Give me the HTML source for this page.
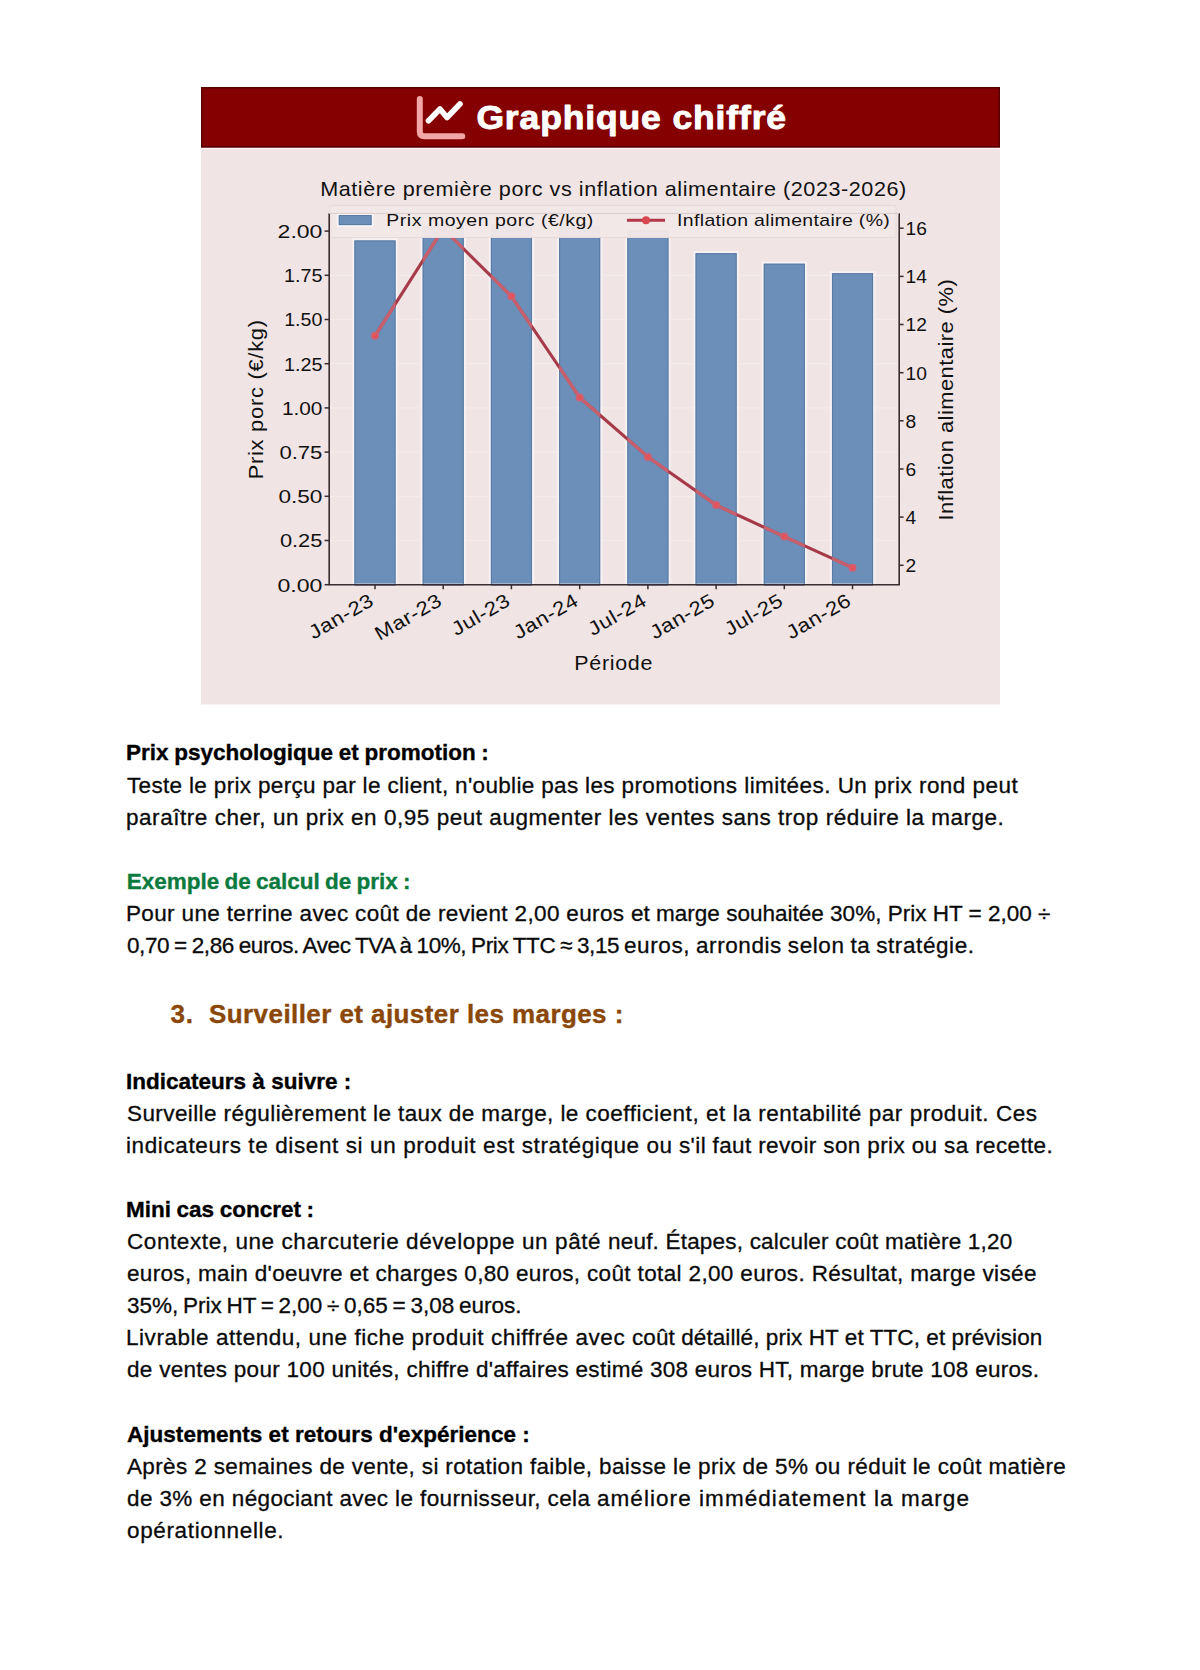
<!DOCTYPE html>
<html lang="fr"><head><meta charset="utf-8"><title>Graphique chiffré</title>
<style>
html,body{margin:0;padding:0;background:#fff;}
body{width:1200px;height:1670px;position:relative;overflow:hidden;font-family:"Liberation Sans",sans-serif;}
.t{position:absolute;white-space:nowrap;line-height:32px;height:32px;color:#0a0a0a;font-size:22.5px;font-kerning:normal;}
.t.r{-webkit-text-stroke:0.3px #0a0a0a;}
.t.b{font-weight:bold;color:#000;-webkit-text-stroke:0.35px #000;}
.t.g{font-weight:bold;color:#0b7a3e;-webkit-text-stroke:0.35px #0b7a3e;}
.t.h{font-weight:bold;color:#8a4708;font-size:26px;-webkit-text-stroke:0.35px #8a4708;}
svg#chart{position:absolute;left:0;top:0;}
svg text{font-family:"Liberation Sans",sans-serif;}
</style></head><body>
<svg id="chart" width="1200" height="720" viewBox="0 0 1200 720">
<rect x="201" y="147" width="799" height="557.5" fill="#f0e4e4"/>
<rect x="201" y="147" width="799" height="2.2" fill="#faf3f3"/>
<rect x="201" y="87" width="799" height="60.5" fill="#850000"/>
<rect x="201.75" y="87.75" width="797.5" height="59" fill="none" stroke="#560000" stroke-width="1.5"/>
<path d="M419.8 99 V131.7 Q419.8 136.2 424.3 136.2 H462.3" fill="none" stroke="#f2a6a6" stroke-width="6" stroke-linecap="round" stroke-linejoin="round"/>
<path d="M428.5 120.8 L440 109 L447 117.5 L460 104" fill="none" stroke="#fff" stroke-width="5.6" stroke-linecap="round" stroke-linejoin="round"/>
<text id="htitle" transform="translate(476.4 128.5) scale(1.06 1)" font-size="33.5" font-weight="bold" fill="#fff" letter-spacing="0.82" stroke="#fff" stroke-width="0.9" stroke-linejoin="round">Graphique chiffré</text>
<text id="ctitle" transform="translate(613.5 196) scale(1.08 1)" font-size="20" text-anchor="middle" fill="#111" letter-spacing="0.517">Matière première porc vs inflation alimentaire (2023-2026)</text>
<line x1="330" x2="899" y1="540.5" y2="540.5" stroke="#f4ebeb" stroke-width="1.2"/>
<line x1="330" x2="899" y1="496.3" y2="496.3" stroke="#f4ebeb" stroke-width="1.2"/>
<line x1="330" x2="899" y1="452.1" y2="452.1" stroke="#f4ebeb" stroke-width="1.2"/>
<line x1="330" x2="899" y1="407.9" y2="407.9" stroke="#f4ebeb" stroke-width="1.2"/>
<line x1="330" x2="899" y1="363.7" y2="363.7" stroke="#f4ebeb" stroke-width="1.2"/>
<line x1="330" x2="899" y1="319.5" y2="319.5" stroke="#f4ebeb" stroke-width="1.2"/>
<line x1="330" x2="899" y1="275.3" y2="275.3" stroke="#f4ebeb" stroke-width="1.2"/>
<line x1="330" x2="899" y1="231.1" y2="231.1" stroke="#f4ebeb" stroke-width="1.2"/>
<g id="bars" fill="#6c8fb9" stroke="#f7f1f3" stroke-width="2.2">
<rect x="353.30" y="239.30" width="43.40" height="345.40"/>
<rect x="421.52" y="224.80" width="43.40" height="359.90"/>
<rect x="489.74" y="222.80" width="43.40" height="361.90"/>
<rect x="557.96" y="224.80" width="43.40" height="359.90"/>
<rect x="626.18" y="228.80" width="43.40" height="355.90"/>
<rect x="694.40" y="252.05" width="43.40" height="332.65"/>
<rect x="762.62" y="262.55" width="43.40" height="322.15"/>
<rect x="830.84" y="272.05" width="43.40" height="312.65"/>
</g>
<g fill="none" stroke="#587aa2" stroke-width="1">
<rect x="355.00" y="241.00" width="40.00" height="344.20"/>
<rect x="423.22" y="226.50" width="40.00" height="358.70"/>
<rect x="491.44" y="224.50" width="40.00" height="360.70"/>
<rect x="559.66" y="226.50" width="40.00" height="358.70"/>
<rect x="627.88" y="230.50" width="40.00" height="354.70"/>
<rect x="696.10" y="253.75" width="40.00" height="331.45"/>
<rect x="764.32" y="264.25" width="40.00" height="320.95"/>
<rect x="832.54" y="273.75" width="40.00" height="311.45"/>
</g>
<clipPath id="cb">
<rect x="354.50" y="240.50" width="41" height="344.20"/>
<rect x="422.72" y="226.00" width="41" height="358.70"/>
<rect x="490.94" y="224.00" width="41" height="360.70"/>
<rect x="559.16" y="226.00" width="41" height="358.70"/>
<rect x="627.38" y="230.00" width="41" height="354.70"/>
<rect x="695.60" y="253.25" width="41" height="331.45"/>
<rect x="763.82" y="263.75" width="41" height="320.95"/>
<rect x="832.04" y="273.25" width="41" height="311.45"/>
</clipPath>
<path d="M375.0 335.8 L443.2 228.7 L511.4 296.3 L579.7 397.5 L647.9 456.9 L716.1 505.1 L784.3 536.6 L852.5 567.7" fill="none" stroke="#a63a49" stroke-width="3.1" stroke-linejoin="round" stroke-linecap="round"/>
<path d="M375.0 335.8 L443.2 228.7 L511.4 296.3 L579.7 397.5 L647.9 456.9 L716.1 505.1 L784.3 536.6 L852.5 567.7" fill="none" stroke="#c8606e" stroke-width="3.2" stroke-linejoin="round" clip-path="url(#cb)"/>
<circle cx="375.0" cy="335.8" r="4" fill="#cc6274"/>
<circle cx="375.0" cy="335.8" r="2.7" fill="#e2545e"/>
<circle cx="443.2" cy="228.7" r="4" fill="#cc6274"/>
<circle cx="443.2" cy="228.7" r="2.7" fill="#e2545e"/>
<circle cx="511.4" cy="296.3" r="4" fill="#cc6274"/>
<circle cx="511.4" cy="296.3" r="2.7" fill="#e2545e"/>
<circle cx="579.7" cy="397.5" r="4" fill="#cc6274"/>
<circle cx="579.7" cy="397.5" r="2.7" fill="#e2545e"/>
<circle cx="647.9" cy="456.9" r="4" fill="#cc6274"/>
<circle cx="647.9" cy="456.9" r="2.7" fill="#e2545e"/>
<circle cx="716.1" cy="505.1" r="4" fill="#cc6274"/>
<circle cx="716.1" cy="505.1" r="2.7" fill="#e2545e"/>
<circle cx="784.3" cy="536.6" r="4" fill="#cc6274"/>
<circle cx="784.3" cy="536.6" r="2.7" fill="#e2545e"/>
<circle cx="852.5" cy="567.7" r="4" fill="#cc6274"/>
<circle cx="852.5" cy="567.7" r="2.7" fill="#e2545e"/>
<rect x="330" y="205.5" width="566" height="32" rx="2" fill="#f2e8e8" fill-opacity="0.955" stroke="#e6dada" stroke-width="1"/>
<rect x="337.8" y="214.1" width="34.8" height="12" fill="#6c8fb9" stroke="#f8f4f8" stroke-width="2"/>
<rect x="339.3" y="215.6" width="31.8" height="9" fill="none" stroke="#587aa2" stroke-width="1"/>
<text id="leg1" transform="translate(386.3 226.3) scale(1.12 1)" font-size="17.4" fill="#111" letter-spacing="0.47">Prix moyen porc (€/kg)</text>
<line x1="627" x2="665" y1="220.2" y2="220.2" stroke="#b03848" stroke-width="3"/>
<circle cx="646" cy="220.2" r="4" fill="#d8484f"/>
<text id="leg2" transform="translate(677.1 226.3) scale(1.12 1)" font-size="17.4" fill="#111" letter-spacing="0.30">Inflation alimentaire (%)</text>
<g stroke="#3a2c30" stroke-width="1.6" fill="none">
<path d="M329.2 213.3 V584.7 H899.2 V213.3"/>
</g>
<line x1="329" x2="899" y1="213.4" y2="213.4" stroke="#d8cccc" stroke-width="1"/>
<g stroke="#3a2c30" stroke-width="1.5">
<line x1="324.6" x2="329.2" y1="584.7" y2="584.7"/>
<line x1="324.6" x2="329.2" y1="540.5" y2="540.5"/>
<line x1="324.6" x2="329.2" y1="496.3" y2="496.3"/>
<line x1="324.6" x2="329.2" y1="452.1" y2="452.1"/>
<line x1="324.6" x2="329.2" y1="407.9" y2="407.9"/>
<line x1="324.6" x2="329.2" y1="363.7" y2="363.7"/>
<line x1="324.6" x2="329.2" y1="319.5" y2="319.5"/>
<line x1="324.6" x2="329.2" y1="275.3" y2="275.3"/>
<line x1="324.6" x2="329.2" y1="231.1" y2="231.1"/>
<line x1="899.2" x2="903.6" y1="565.3" y2="565.3"/>
<line x1="899.2" x2="903.6" y1="517.1" y2="517.1"/>
<line x1="899.2" x2="903.6" y1="469.0" y2="469.0"/>
<line x1="899.2" x2="903.6" y1="420.8" y2="420.8"/>
<line x1="899.2" x2="903.6" y1="372.7" y2="372.7"/>
<line x1="899.2" x2="903.6" y1="324.5" y2="324.5"/>
<line x1="899.2" x2="903.6" y1="276.4" y2="276.4"/>
<line x1="899.2" x2="903.6" y1="228.2" y2="228.2"/>
<line x1="375.0" x2="375.0" y1="584.7" y2="589.3"/>
<line x1="443.2" x2="443.2" y1="584.7" y2="589.3"/>
<line x1="511.4" x2="511.4" y1="584.7" y2="589.3"/>
<line x1="579.7" x2="579.7" y1="584.7" y2="589.3"/>
<line x1="647.9" x2="647.9" y1="584.7" y2="589.3"/>
<line x1="716.1" x2="716.1" y1="584.7" y2="589.3"/>
<line x1="784.3" x2="784.3" y1="584.7" y2="589.3"/>
<line x1="852.5" x2="852.5" y1="584.7" y2="589.3"/>
</g>
<g font-size="19.2" fill="#111" id="ytl" text-anchor="end">
<text x="322.4" y="591.6" textLength="45.0" lengthAdjust="spacingAndGlyphs">0.00</text>
<text x="322.4" y="547.4" textLength="42.5" lengthAdjust="spacingAndGlyphs">0.25</text>
<text x="322.4" y="503.2" textLength="44.0" lengthAdjust="spacingAndGlyphs">0.50</text>
<text x="322.4" y="459.0" textLength="43.0" lengthAdjust="spacingAndGlyphs">0.75</text>
<text x="322.4" y="414.8" textLength="40.5" lengthAdjust="spacingAndGlyphs">1.00</text>
<text x="322.4" y="370.6" textLength="38.5" lengthAdjust="spacingAndGlyphs">1.25</text>
<text x="322.4" y="326.4" textLength="38.2" lengthAdjust="spacingAndGlyphs">1.50</text>
<text x="322.4" y="282.2" textLength="38.5" lengthAdjust="spacingAndGlyphs">1.75</text>
<text x="322.4" y="238.0" textLength="44.8" lengthAdjust="spacingAndGlyphs">2.00</text>
</g>
<g font-size="19.2" fill="#111" id="ytr">
<text x="905.6" y="572.2">2</text>
<text x="905.6" y="524.0">4</text>
<text x="905.6" y="475.9">6</text>
<text x="905.6" y="427.7">8</text>
<text x="905.6" y="379.6">10</text>
<text x="905.6" y="331.4">12</text>
<text x="905.6" y="283.3">14</text>
<text x="905.6" y="235.1">16</text>
</g>
<g font-size="19.5" fill="#111" text-anchor="end" id="xtl" letter-spacing="0.5">
<text transform="translate(375.3 604.2) rotate(-30) scale(1.14 1)">Jan-23</text>
<text transform="translate(443.5 604.2) rotate(-30) scale(1.14 1)">Mar-23</text>
<text transform="translate(511.7 604.2) rotate(-30) scale(1.14 1)">Jul-23</text>
<text transform="translate(580.0 604.2) rotate(-30) scale(1.14 1)">Jan-24</text>
<text transform="translate(648.2 604.2) rotate(-30) scale(1.14 1)">Jul-24</text>
<text transform="translate(716.4 604.2) rotate(-30) scale(1.14 1)">Jan-25</text>
<text transform="translate(784.6 604.2) rotate(-30) scale(1.14 1)">Jul-25</text>
<text transform="translate(852.8 604.2) rotate(-30) scale(1.14 1)">Jan-26</text>
</g>
<text id="xl" transform="translate(613.7 669.5) scale(1.1 1)" font-size="19.5" text-anchor="middle" fill="#111" letter-spacing="0.63">Période</text>
<text id="yl" transform="translate(263 399.3) rotate(-90) scale(1.12 1)" font-size="19.5" text-anchor="middle" fill="#111" letter-spacing="0.68">Prix porc (€/kg)</text>
<text id="yr" transform="translate(953 399.7) rotate(-90) scale(1.12 1)" font-size="19.5" text-anchor="middle" fill="#111" letter-spacing="0.45">Inflation alimentaire (%)</text>
</svg>
<div class="t b" id="L0" style="left:126.00px;top:737.20px;letter-spacing:0.000px;word-spacing:-0.550px">Prix psychologique et promotion :</div>
<div class="t r" id="L1" style="left:127.00px;top:769.50px;letter-spacing:0.334px;word-spacing:0.000px">Teste le prix perçu par le client, n'oublie pas les <span id="S1" style="letter-spacing:0.471px">promotions limitées. Un prix rond peut</span></div>
<div class="t r" id="L2" style="left:126.00px;top:801.60px;letter-spacing:0.539px;word-spacing:0.000px">paraître cher, un prix en 0,95 peut augmenter <span id="S2" style="letter-spacing:0.509px">les ventes sans trop réduire la marge.</span></div>
<div class="t g" id="L3" style="left:126.80px;top:865.80px;letter-spacing:0.000px;word-spacing:-1.040px">Exemple de calcul de prix :</div>
<div class="t r" id="L4" style="left:126.00px;top:898.00px;letter-spacing:0.351px;word-spacing:0.000px">Pour une terrine avec coût de revient 2,00 euros <span id="S4" style="letter-spacing:0.011px">et marge souhaitée 30%, Prix HT = 2,00 ÷</span></div>
<div class="t r" id="L5" style="left:127.00px;top:930.10px;letter-spacing:-0.394px;word-spacing:-1.000px">0,70 = 2,86 euros. Avec TVA à 10%, Prix TTC ≈ 3,15 <span id="S5" style="letter-spacing:0.591px">euros, arrondis selon ta stratégie.</span></div>
<div class="t h" id="L6" style="left:170.60px;top:997.99px;letter-spacing:0.800px;word-spacing:0.000px">3.</div>
<div class="t h" id="L7" style="left:209.00px;top:997.99px;letter-spacing:0.424px;word-spacing:0.000px">Surveiller et ajuster les marges :</div>
<div class="t b" id="L8" style="left:126.00px;top:1065.50px;letter-spacing:0.000px;word-spacing:0.067px">Indicateurs à suivre :</div>
<div class="t r" id="L9" style="left:127.00px;top:1097.60px;letter-spacing:0.404px;word-spacing:0.000px">Surveille régulièrement le taux de marge, le <span id="S9" style="letter-spacing:0.557px">coefficient, et la rentabilité par produit. Ces</span></div>
<div class="t r" id="L10" style="left:126.00px;top:1129.70px;letter-spacing:0.607px;word-spacing:0.000px">indicateurs te disent si un produit est stratégique <span id="S10" style="letter-spacing:0.367px">ou s'il faut revoir son prix ou sa recette.</span></div>
<div class="t b" id="L11" style="left:126.00px;top:1193.90px;letter-spacing:0.000px;word-spacing:-0.667px">Mini cas concret :</div>
<div class="t r" id="L12" style="left:127.00px;top:1226.00px;letter-spacing:0.584px;word-spacing:0.000px">Contexte, une charcuterie développe un pâté <span id="S12" style="letter-spacing:0.198px">neuf. Étapes, calculer coût matière 1,20</span></div>
<div class="t r" id="L13" style="left:127.00px;top:1258.10px;letter-spacing:0.323px;word-spacing:0.000px">euros, main d'oeuvre et charges 0,80 euros, <span id="S13" style="letter-spacing:0.358px">coût total 2,00 euros. Résultat, marge visée</span></div>
<div class="t r" id="L14" style="left:127.00px;top:1290.20px;letter-spacing:0.000px;word-spacing:-1.556px">35%, Prix HT = 2,00 ÷ 0,65 = 3,08 euros.</div>
<div class="t r" id="L15" style="left:126.00px;top:1322.30px;letter-spacing:0.547px;word-spacing:0.000px">Livrable attendu, une fiche produit chiffrée avec <span id="S15" style="letter-spacing:0.082px">coût détaillé, prix HT et TTC, et prévision</span></div>
<div class="t r" id="L16" style="left:127.00px;top:1354.40px;letter-spacing:0.296px;word-spacing:0.000px">de ventes pour 100 unités, chiffre d'affaires <span id="S16" style="letter-spacing:0.252px">estimé 308 euros HT, marge brute 108 euros.</span></div>
<div class="t b" id="L17" style="left:127.00px;top:1418.60px;letter-spacing:0.028px;word-spacing:0.000px">Ajustements et retours d'expérience :</div>
<div class="t r" id="L18" style="left:127.00px;top:1450.70px;letter-spacing:0.357px;word-spacing:0.000px">Après 2 semaines de vente, si rotation faible, <span id="S18" style="letter-spacing:0.396px">baisse le prix de 5% ou réduit le coût matière</span></div>
<div class="t r" id="L19" style="left:127.00px;top:1482.80px;letter-spacing:0.382px;word-spacing:0.000px">de 3% en négociant avec le fournisseur, cela <span id="S19" style="letter-spacing:1.060px">améliore immédiatement la marge</span></div>
<div class="t r" id="L20" style="left:127.00px;top:1514.90px;letter-spacing:0.643px;word-spacing:0.000px">opérationnelle.</div>
</body></html>
